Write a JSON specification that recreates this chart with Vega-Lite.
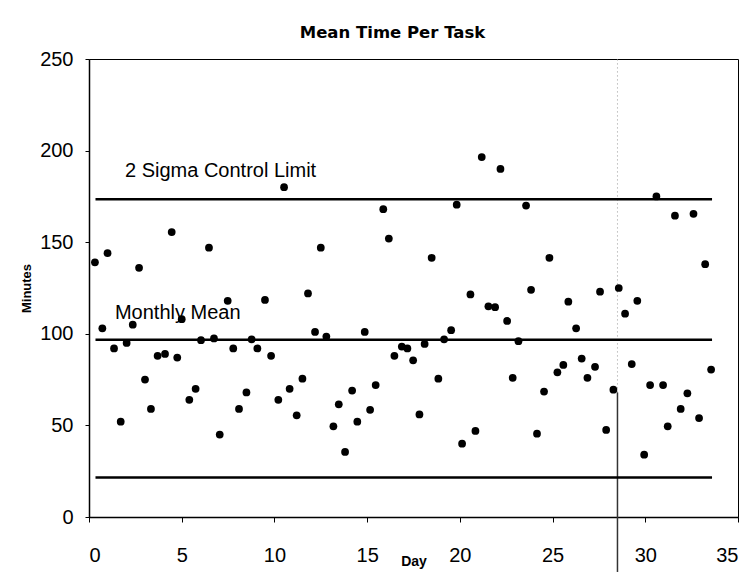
{
  "$schema": "https://vega.github.io/schema/vega-lite/v6.json",
  "width": 649,
  "height": 458,
  "autosize": {"type": "none"},
  "padding": {"left": 89, "top": 59, "right": 17, "bottom": 59},
  "background": "white",
  "title": {"text": "Mean Time Per Task", "fontSize": 16.5, "fontWeight": "bold", "font": "DejaVu Sans", "color": "black", "offset": 8, "anchor": "middle", "dx": -21},
  "config": {
    "view": {"stroke": "black", "strokeWidth": 1},
    "font": "Liberation Sans",
    "axis": {"grid": false, "domainColor": "black", "tickColor": "black", "labelColor": "black", "titleColor": "black", "domainWidth": 1.5, "tickWidth": 1, "labelFont": "Liberation Sans", "titleFont": "Liberation Sans"}
  },
  "datasets": {
    "points": [
      {"day": 0.32, "minutes": 139}, {"day": 0.72, "minutes": 103}, {"day": 1.0, "minutes": 144}, {"day": 1.35, "minutes": 92},
      {"day": 1.71, "minutes": 52}, {"day": 2.03, "minutes": 95}, {"day": 2.36, "minutes": 105}, {"day": 2.7, "minutes": 136},
      {"day": 3.02, "minutes": 75}, {"day": 3.34, "minutes": 59}, {"day": 3.7, "minutes": 88}, {"day": 4.1, "minutes": 89},
      {"day": 4.46, "minutes": 155.5}, {"day": 4.76, "minutes": 87}, {"day": 5.0, "minutes": 108}, {"day": 5.41, "minutes": 64},
      {"day": 5.75, "minutes": 70}, {"day": 6.04, "minutes": 96.5}, {"day": 6.47, "minutes": 147}, {"day": 6.74, "minutes": 97.5},
      {"day": 7.05, "minutes": 45}, {"day": 7.48, "minutes": 118}, {"day": 7.78, "minutes": 92}, {"day": 8.09, "minutes": 59},
      {"day": 8.49, "minutes": 68}, {"day": 8.77, "minutes": 97}, {"day": 9.08, "minutes": 92}, {"day": 9.49, "minutes": 118.5},
      {"day": 9.82, "minutes": 88}, {"day": 10.21, "minutes": 64}, {"day": 10.52, "minutes": 180}, {"day": 10.82, "minutes": 70},
      {"day": 11.2, "minutes": 55.5}, {"day": 11.51, "minutes": 75.5}, {"day": 11.81, "minutes": 122}, {"day": 12.19, "minutes": 101},
      {"day": 12.5, "minutes": 147}, {"day": 12.8, "minutes": 98.5}, {"day": 13.18, "minutes": 49.5}, {"day": 13.47, "minutes": 61.5},
      {"day": 13.81, "minutes": 35.5}, {"day": 14.19, "minutes": 69}, {"day": 14.47, "minutes": 52}, {"day": 14.87, "minutes": 101},
      {"day": 15.16, "minutes": 58.5}, {"day": 15.46, "minutes": 72}, {"day": 15.87, "minutes": 168}, {"day": 16.17, "minutes": 152},
      {"day": 16.47, "minutes": 88}, {"day": 16.87, "minutes": 93}, {"day": 17.17, "minutes": 92}, {"day": 17.48, "minutes": 85.5},
      {"day": 17.82, "minutes": 56}, {"day": 18.1, "minutes": 94.5}, {"day": 18.48, "minutes": 141.5}, {"day": 18.84, "minutes": 75.5},
      {"day": 19.15, "minutes": 97}, {"day": 19.53, "minutes": 102}, {"day": 19.83, "minutes": 170.5}, {"day": 20.12, "minutes": 40},
      {"day": 20.57, "minutes": 121.5}, {"day": 20.84, "minutes": 47}, {"day": 21.18, "minutes": 196.5}, {"day": 21.54, "minutes": 115},
      {"day": 21.9, "minutes": 114.5}, {"day": 22.19, "minutes": 190}, {"day": 22.55, "minutes": 107}, {"day": 22.85, "minutes": 76},
      {"day": 23.16, "minutes": 96}, {"day": 23.57, "minutes": 170}, {"day": 23.84, "minutes": 124}, {"day": 24.16, "minutes": 45.5},
      {"day": 24.54, "minutes": 68.5}, {"day": 24.83, "minutes": 141.5}, {"day": 25.26, "minutes": 79}, {"day": 25.58, "minutes": 83},
      {"day": 25.85, "minutes": 117.5}, {"day": 26.27, "minutes": 103}, {"day": 26.57, "minutes": 86.5}, {"day": 26.88, "minutes": 76},
      {"day": 27.29, "minutes": 82}, {"day": 27.56, "minutes": 123}, {"day": 27.89, "minutes": 47.5}, {"day": 28.28, "minutes": 69.5},
      {"day": 28.57, "minutes": 125}, {"day": 28.91, "minutes": 111}, {"day": 29.27, "minutes": 83.5}, {"day": 29.57, "minutes": 118},
      {"day": 29.94, "minutes": 34}, {"day": 30.26, "minutes": 72}, {"day": 30.6, "minutes": 175}, {"day": 30.96, "minutes": 72},
      {"day": 31.21, "minutes": 49.5}, {"day": 31.6, "minutes": 164.5}, {"day": 31.91, "minutes": 59}, {"day": 32.27, "minutes": 67.5},
      {"day": 32.6, "minutes": 165.5}, {"day": 32.9, "minutes": 54}, {"day": 33.23, "minutes": 138}, {"day": 33.55, "minutes": 80.5}
    ],
    "limits": [
      {"name": "upper", "start": 0.35, "end": 33.6, "value": 173.5},
      {"name": "mean", "start": 0.35, "end": 33.6, "value": 96.8},
      {"name": "lower", "start": 0.35, "end": 33.6, "value": 21.5}
    ],
    "labels": [
      {"text": "2 Sigma Control Limit", "day": 1.94, "minutes": 185.5},
      {"text": "Monthly Mean", "day": 1.4, "minutes": 108.2}
    ],
    "marker": [
      {"day": 28.5, "low": -30, "mid": 68, "high": 250}
    ]
  },
  "layer": [
    {
      "data": {"name": "marker"},
      "mark": {"type": "rule", "color": "#999999", "strokeWidth": 1, "strokeDash": [1, 3]},
      "encoding": {
        "x": {"field": "day", "type": "quantitative"},
        "y": {"field": "mid", "type": "quantitative"},
        "y2": {"field": "high"}
      }
    },
    {
      "data": {"name": "marker"},
      "mark": {"type": "rule", "color": "#333333", "strokeWidth": 1.5},
      "encoding": {
        "x": {"field": "day", "type": "quantitative"},
        "y": {"field": "low", "type": "quantitative"},
        "y2": {"field": "mid"}
      }
    },
    {
      "data": {"name": "limits"},
      "mark": {"type": "rule", "color": "black", "strokeWidth": 2.5},
      "encoding": {
        "x": {"field": "start", "type": "quantitative"},
        "x2": {"field": "end"},
        "y": {"field": "value", "type": "quantitative"}
      }
    },
    {
      "data": {"name": "labels"},
      "mark": {"type": "text", "align": "left", "baseline": "alphabetic", "fontSize": 20, "font": "Liberation Sans", "color": "black"},
      "encoding": {
        "x": {"field": "day", "type": "quantitative"},
        "y": {"field": "minutes", "type": "quantitative"},
        "text": {"field": "text"}
      }
    },
    {
      "data": {"name": "points"},
      "mark": {"type": "circle", "color": "black", "opacity": 1, "size": 60},
      "encoding": {
        "x": {
          "field": "day", "type": "quantitative",
          "scale": {"domain": [0, 35], "nice": false, "zero": false},
          "axis": {"title": "Day", "values": [0, 5, 10, 15, 20, 25, 30, 35], "labelFontSize": 20, "tickSize": 5, "labelPadding": 23, "titleFontSize": 14, "titleFontWeight": "bold", "titleY": 48, "titleBaseline": "alphabetic"}
        },
        "y": {
          "field": "minutes", "type": "quantitative",
          "scale": {"domain": [0, 250], "nice": false},
          "axis": {"title": "Minutes", "values": [0, 50, 100, 150, 200, 250], "labelFontSize": 20, "tickSize": 4, "labelPadding": 12, "titleFontSize": 13, "titleFontWeight": "bold", "titleX": -63, "titleBaseline": "middle"}
        }
      }
    }
  ]
}
